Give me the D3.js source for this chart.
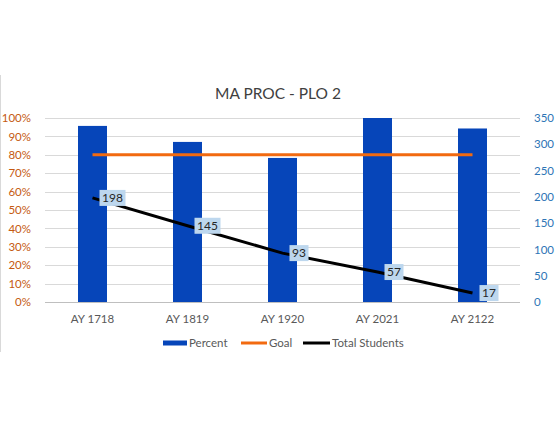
<!DOCTYPE html>
<html>
<head>
<meta charset="utf-8">
<script src="https://cdn.jsdelivr.net/npm/d3@7"></script>
<style>
  html, body { margin: 0; padding: 0; background: #fff; }
  svg { display: block; font-family: Lato, "Open Sans", sans-serif; }
</style>
</head>
<body>
<div id="chart"></div>
<script>
// chart data
const categories = ['AY 1718', 'AY 1819', 'AY 1920', 'AY 2021', 'AY 2122'];
const percentValues = [0.957, 0.87, 0.783, 1.0, 0.943];
const goalValues = [0.8, 0.8, 0.8, 0.8, 0.8];
const totalStudents = [198, 145, 93, 57, 17];
const leftTicks = [0, 0.1, 0.2, 0.3, 0.4, 0.5, 0.6, 0.7, 0.8, 0.9, 1.0];
const rightTicks = [0, 50, 100, 150, 200, 250, 300, 350];

const W = 555, H = 444;
const margin = { left: 45, right: 35, top: 118, bottom: 142 };
const FONT = 'Lato, "Open Sans", sans-serif';

const svg = d3.select('#chart').append('svg')
    .attr('width', W)
    .attr('height', H);

// faint border on the left edge
svg.append('line')
    .attr('x1', 0.5).attr('x2', 0.5)
    .attr('y1', 75).attr('y2', 352)
    .attr('stroke', '#d9d9d9');

const x = d3.scaleBand()
    .domain(categories)
    .range([margin.left, W - margin.right]);

const yLeft = d3.scaleLinear()
    .domain([0, 1])
    .range([H - margin.bottom, margin.top]);

const yRight = d3.scaleLinear()
    .domain([0, 350])
    .range([H - margin.bottom, margin.top]);

// gridlines
svg.append('g')
    .selectAll('line')
    .data(leftTicks)
    .enter()
    .append('line')
    .attr('x1', margin.left)
    .attr('x2', W - margin.right)
    .attr('y1', d => Math.round(yLeft(d)) + 0.5)
    .attr('y2', d => Math.round(yLeft(d)) + 0.5)
    .attr('stroke', d => d === 0 ? '#bfbfbf' : '#d9d9d9')
    .attr('stroke-width', 1);

// left axis
const leftAxis = svg.append('g')
    .attr('transform', `translate(${margin.left - 11},0)`)
    .call(d3.axisLeft(yLeft).tickValues(leftTicks).tickFormat(d3.format('.0%')).tickSize(0));
leftAxis.select('.domain').remove();
leftAxis.selectAll('text')
    .attr('fill', '#c55a11')
    .attr('font-size', 11.5)
    .attr('font-family', FONT);

// right axis
const rightAxis = svg.append('g')
    .attr('transform', `translate(${W - margin.right + 11},0)`)
    .call(d3.axisRight(yRight).tickValues(rightTicks).tickSize(0));
rightAxis.select('.domain').remove();
rightAxis.selectAll('text')
    .attr('fill', '#2e75b6')
    .attr('font-size', 11.5)
    .attr('font-family', FONT);

// bottom axis labels
const bottomAxis = svg.append('g')
    .attr('transform', `translate(0,${H - margin.bottom + 10})`)
    .call(d3.axisBottom(x).tickSize(0));
bottomAxis.select('.domain').remove();
bottomAxis.selectAll('text')
    .attr('fill', '#595959')
    .attr('font-size', 11.5)
    .attr('font-family', FONT);

// bars
const barWidth = 29;
svg.append('g')
    .selectAll('rect')
    .data(percentValues)
    .enter()
    .append('rect')
    .attr('x', (d, i) => x(categories[i]) + x.bandwidth() / 2 - barWidth / 2)
    .attr('y', d => yLeft(d))
    .attr('width', barWidth)
    .attr('height', d => yLeft(0) - yLeft(d))
    .attr('fill', '#0645b9');

const cx = (d, i) => x(categories[i]) + x.bandwidth() / 2;

// goal line
const goalLine = d3.line()
    .x((d, i) => cx(d, i))
    .y(d => yLeft(d));
svg.append('path')
    .datum(goalValues)
    .attr('d', goalLine)
    .attr('fill', 'none')
    .attr('stroke', '#f26a10')
    .attr('stroke-width', 3);

// total students line
const studentLine = d3.line()
    .x((d, i) => cx(d, i))
    .y(d => yRight(d));
svg.append('path')
    .datum(totalStudents)
    .attr('d', studentLine)
    .attr('fill', 'none')
    .attr('stroke', '#000')
    .attr('stroke-width', 3);

// data labels
const labels = svg.append('g')
    .selectAll('g')
    .data(totalStudents)
    .enter()
    .append('g')
    .attr('transform', (d, i) => `translate(${cx(d, i) + 7},${yRight(d)})`);
labels.append('rect')
    .attr('x', 0)
    .attr('y', -8)
    .attr('width', d => String(d).length * 7 + 5)
    .attr('height', 16)
    .attr('fill', '#bdd7ee');
labels.append('text')
    .attr('x', d => (String(d).length * 7 + 5) / 2)
    .attr('y', 4)
    .attr('text-anchor', 'middle')
    .attr('font-size', 12)
    .attr('fill', '#262626')
    .text(d => d);

// title
svg.append('text')
    .attr('x', 278)
    .attr('y', 99)
    .attr('text-anchor', 'middle')
    .attr('font-size', 15.5)
    .attr('fill', '#404040')
    .text('MA PROC - PLO 2');

// legend
const legendY = 343;
const legendItems = [
    { name: 'Percent', x: 163, w: 24, type: 'rect', color: '#0645b9' },
    { name: 'Goal', x: 241, w: 26, type: 'line', color: '#f26a10' },
    { name: 'Total Students', x: 303, w: 27, type: 'line', color: '#000' }
];
const legend = svg.append('g');
legendItems.forEach(item => {
    if (item.type === 'rect') {
        legend.append('rect')
            .attr('x', item.x).attr('y', legendY - 2.5)
            .attr('width', item.w).attr('height', 5)
            .attr('fill', item.color);
    } else {
        legend.append('line')
            .attr('x1', item.x).attr('x2', item.x + item.w)
            .attr('y1', legendY).attr('y2', legendY)
            .attr('stroke', item.color)
            .attr('stroke-width', 3);
    }
    legend.append('text')
        .attr('x', item.x + item.w + 2)
        .attr('y', legendY + 4)
        .attr('font-size', 11.5)
        .attr('fill', '#595959')
        .text(item.name);
});
</script>
</body>
</html>
